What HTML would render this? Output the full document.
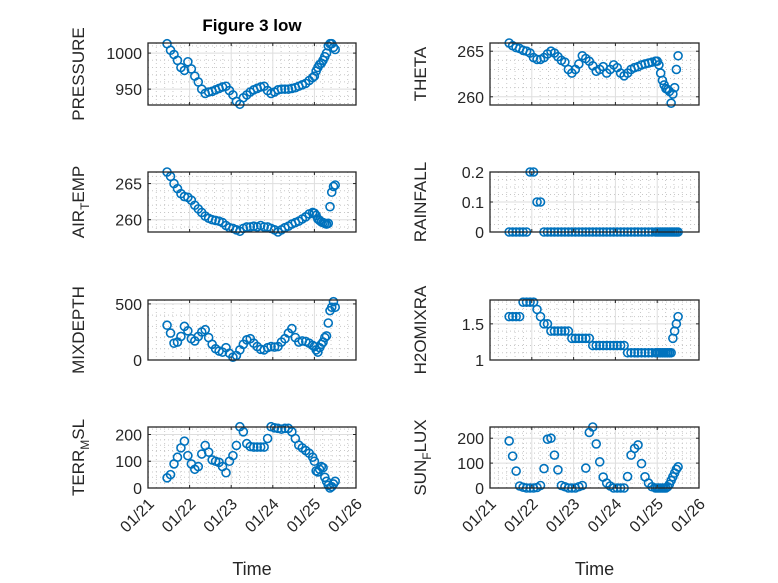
<!DOCTYPE html>
<html><head><meta charset="utf-8"><style>
html,body{margin:0;padding:0;background:#fff;}
svg{display:block;font-family:"Liberation Sans","DejaVu Sans",sans-serif;}
</style></head><body>
<svg id="fig" width="778" height="583" viewBox="0 0 778 583" xmlns="http://www.w3.org/2000/svg">
<rect width="778" height="583" fill="#fff"/>
<text x="252" y="31" text-anchor="middle" font-size="17" font-weight="bold" fill="#000">Figure 3 low</text>
</svg>
<script>
const hours = [11,13,15,17,19,21,23,25,27,29,31,33,35,37,39,41,43,45,47,49,51,53,55,57,59,61,63,65,67,69,71,73,75,77,79,81,83,85,87,89,91,93,95,96,97,98,99,100,101,102,103,104,105,106,107,108];
const xTickLabels = ["01/21","01/22","01/23","01/24","01/25","01/26"];
const pressure = [1013,1004,998,990,980,976,988,978,968,960,950,944,946,947,949,951,953,954,948,942,933,929,938,942,946,949,951,953,954,948,944,946,949,950,950,950,951,952,954,956,958,962,966,968,975,980,984,986,990,995,1000,1010,1013,1013,1008,1005];
const theta = [265.9,265.6,265.4,265.3,265.1,265.0,264.8,264.3,264.1,264.1,264.3,264.7,265.0,264.8,264.4,264.0,263.8,263.0,262.6,263.0,263.6,264.5,264.2,263.9,263.4,262.8,263.0,263.3,262.6,263.0,263.5,263.2,262.6,262.3,262.6,263.0,263.2,263.3,263.5,263.6,263.7,263.8,263.9,263.9,263.5,262.6,261.8,261.3,260.9,260.8,260.6,259.3,260.3,261.0,263.0,264.5];
const airTemp = [266.6,266.0,265.0,264.3,263.6,263.2,263.1,262.7,262.0,261.5,261.0,260.5,260.2,260.0,259.9,259.8,259.6,259.2,258.9,258.8,258.6,258.4,258.8,259.0,259.0,259.1,259.0,259.2,259.0,259.0,258.8,258.6,258.3,258.6,258.9,259.1,259.4,259.6,259.8,260.1,260.4,260.8,261.0,260.9,260.6,260.1,259.9,259.7,259.6,259.5,259.4,259.5,261.8,263.8,264.6,264.8];
const rainfall = [0,0,0,0,0,0,0.2,0.2,0.1,0.1,0,0,0,0,0,0,0,0,0,0,0,0,0,0,0,0,0,0,0,0,0,0,0,0,0,0,0,0,0,0,0,0,0,0,0,0,0,0,0,0,0,0,0,0,0,0];
const mixDepth = [310,240,150,160,210,300,260,190,170,210,250,270,200,140,100,80,70,110,60,25,40,90,140,180,190,150,120,95,90,110,120,115,120,160,190,240,280,200,160,170,165,150,130,120,90,70,110,140,160,200,215,330,440,470,520,470];
const h2oMixRa = [1.6,1.6,1.6,1.6,1.8,1.8,1.8,1.8,1.7,1.6,1.5,1.5,1.4,1.4,1.4,1.4,1.4,1.4,1.3,1.3,1.3,1.3,1.3,1.3,1.2,1.2,1.2,1.2,1.2,1.2,1.2,1.2,1.2,1.2,1.1,1.1,1.1,1.1,1.1,1.1,1.1,1.1,1.1,1.1,1.1,1.1,1.1,1.1,1.1,1.1,1.1,1.1,1.3,1.4,1.5,1.6];
const terrMsl = [38,50,90,115,150,175,121,90,70,80,127,159,134,105,100,96,80,57,100,121,159,229,210,166,155,153,153,153,153,185,229,225,223,220,223,223,210,185,160,150,140,130,115,100,64,60,70,80,76,40,25,10,0,5,15,25];
const sunFlux = [189,128,68,8,3,0,0,0,2,10,78,196,200,132,73,10,5,0,0,0,5,10,80,223,245,177,105,44,20,8,0,0,0,0,46,132,159,173,98,45,20,5,0,0,0,0,0,0,0,5,15,30,45,60,75,85];

const NS="http://www.w3.org/2000/svg";
const svg=document.getElementById('fig');
function mk(tag,attrs,parent){const e=document.createElementNS(NS,tag);for(const k in attrs)e.setAttribute(k,attrs[k]);(parent||svg).appendChild(e);return e;}

const panels=[
 {name:'pressure',data:pressure,x0:148,x1:356,y0:43,y1:105,ymin:928,ymax:1014,ticks:[950,1000],minor:10,label:['PRESSURE'],bottom:false},
 {name:'theta',data:theta,x0:490,x1:699,y0:43,y1:105,ymin:259.1,ymax:265.9,ticks:[260,265],minor:1,label:['THETA'],bottom:false},
 {name:'air-temp',data:airTemp,x0:148,x1:356,y0:172,y1:232,ymin:258.3,ymax:266.6,ticks:[260,265],minor:1,label:['AIR','T','EMP'],bottom:false},
 {name:'rainfall',data:rainfall,x0:490,x1:699,y0:172,y1:232,ymin:0,ymax:0.2,ticks:[0,0.1,0.2],minor:0.025,label:['RAINFALL'],bottom:false},
 {name:'mixdepth',data:mixDepth,x0:148,x1:356,y0:300,y1:360,ymin:0,ymax:535,ticks:[0,500],minor:100,label:['MIXDEPTH'],bottom:false},
 {name:'h2omixra',data:h2oMixRa,x0:490,x1:699,y0:300,y1:360,ymin:1,ymax:1.83,ticks:[1,1.5],minor:0.1,label:['H2OMIXRA'],bottom:false},
 {name:'terr-msl',data:terrMsl,x0:148,x1:356,y0:427,y1:488,ymin:0,ymax:228,ticks:[0,100,200],minor:20,label:['TERR','M','SL'],bottom:true},
 {name:'sun-flux',data:sunFlux,x0:490,x1:699,y0:427,y1:488,ymin:0,ymax:245,ticks:[0,100,200],minor:20,label:['SUN','F','LUX'],bottom:true}
];

panels.forEach(p=>{
 const g=mk('g',{});
 
 
 const X=h=>p.x0+(h/120)*(p.x1-p.x0);
 const Y=v=>p.y1-(v-p.ymin)/(p.ymax-p.ymin)*(p.y1-p.y0);
 mk('rect',{x:p.x0,y:p.y0,width:p.x1-p.x0,height:p.y1-p.y0,fill:'#fff'},g);
 for(let h=0;h<=120;h+=4.8){
   const x=X(h);
   if(Math.abs(h%24)<0.01||Math.abs(h%24-24)<0.01) continue;
   mk('line',{x1:x,x2:x,y1:p.y0,y2:p.y1,stroke:'#c8c8c8','stroke-width':1,'stroke-dasharray':'1 3'},g);
 }
 const start=Math.ceil(p.ymin/p.minor)*p.minor;
 for(let v=start;v<=p.ymax+1e-9;v+=p.minor){
   if(p.ticks.some(t=>Math.abs(t-v)<1e-6)) continue;
   const y=Y(v);
   mk('line',{x1:p.x0,x2:p.x1,y1:y,y2:y,stroke:'#c8c8c8','stroke-width':1,'stroke-dasharray':'1 3'},g);
 }
 xTickLabels.forEach((lab,i)=>{const x=X(i*24);
   mk('line',{x1:x,x2:x,y1:p.y0,y2:p.y1,stroke:'#dedede','stroke-width':1},g);});
 p.ticks.forEach(v=>{const y=Y(v);
   mk('line',{x1:p.x0,x2:p.x1,y1:y,y2:y,stroke:'#dedede','stroke-width':1},g);});
 p.data.forEach((v,i)=>{
   const c=mk('circle',{cx:X(hours[i]),cy:Y(v),r:4,fill:'none',stroke:'#0072BD','stroke-width':1.6},g);
   
   
 });
 mk('rect',{x:p.x0,y:p.y0,width:p.x1-p.x0,height:p.y1-p.y0,fill:'none',stroke:'#262626','stroke-width':1.3},g);
 xTickLabels.forEach((lab,i)=>{const x=X(i*24);
   mk('line',{x1:x,x2:x,y1:p.y1,y2:p.y1-3,stroke:'#262626','stroke-width':1},g);
   mk('line',{x1:x,x2:x,y1:p.y0,y2:p.y0+3,stroke:'#262626','stroke-width':1},g);
   if(p.bottom){
     const tx=x+7, ty=p.y1+17;
     const t=mk('text',{x:tx,y:ty,'text-anchor':'end','font-size':16,fill:'#262626',transform:`rotate(-45 ${tx} ${ty})`},g);
     t.textContent=lab;
     
     
   }
 });
 p.ticks.forEach(v=>{const y=Y(v);
   mk('line',{x1:p.x0,x2:p.x0+3,y1:y,y2:y,stroke:'#262626','stroke-width':1},g);
   mk('line',{x1:p.x1,x2:p.x1-3,y1:y,y2:y,stroke:'#262626','stroke-width':1},g);
   const t=mk('text',{x:p.x0-6,y:y+6,'text-anchor':'end','font-size':16,fill:'#262626'},g);
   t.textContent=String(v);
   
   
 });
 const cx=p.x0-64, cy=(p.y0+p.y1)/2;
 const yl=mk('text',{x:cx,y:cy,'text-anchor':'middle','font-size':17,fill:'#262626',transform:`rotate(-90 ${cx} ${cy})`},g);
 
 
 if(p.label.length===1){yl.textContent=p.label[0];}
 else{
   const a=mk('tspan',{},yl);a.textContent=p.label[0];
   const b=mk('tspan',{dy:5,'font-size':12},yl);b.textContent=p.label[1];
   const c=mk('tspan',{dy:-5},yl);c.textContent=p.label[2];
 }
 if(p.bottom){
   const xt=mk('text',{x:(p.x0+p.x1)/2,y:575,'text-anchor':'middle','font-size':18,fill:'#262626'},g);
   xt.textContent='Time';
   
   
 }
});
</script>
</body></html>
